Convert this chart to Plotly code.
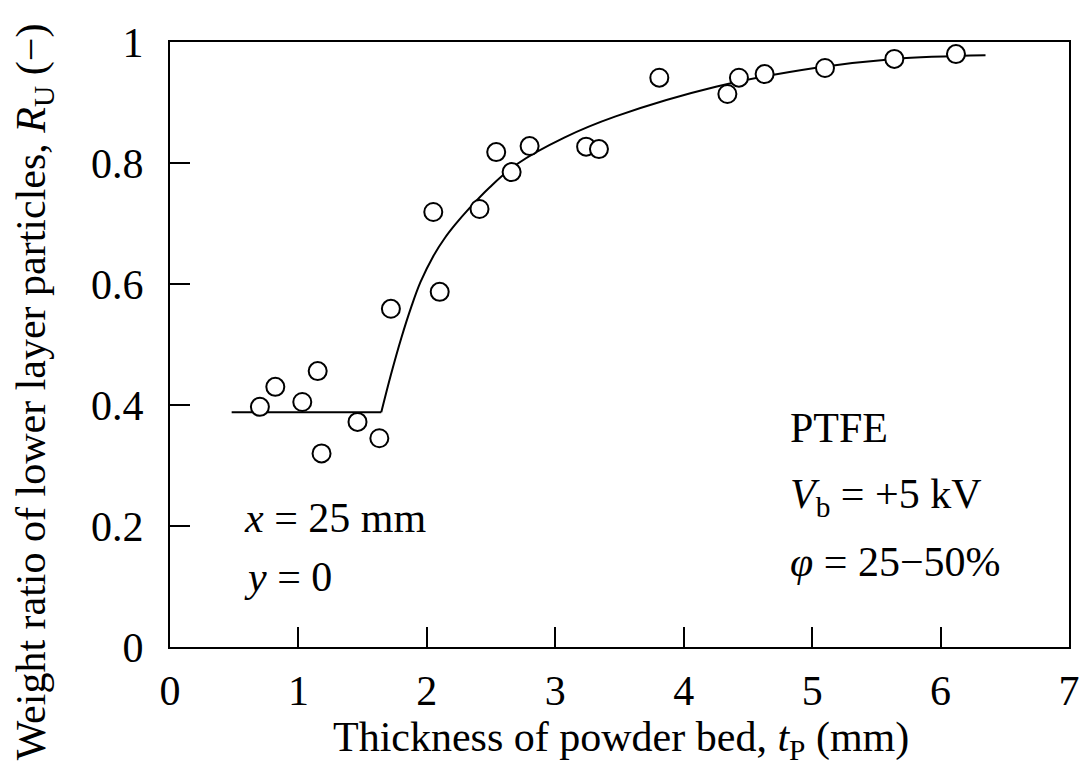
import plotly.graph_objects as go

# Measured data points (thickness t_P in mm, weight ratio R_U)
t_points = [0.70, 0.82, 1.03, 1.15, 1.18, 1.46, 1.63, 1.72, 2.05, 2.10, 2.41,
            2.54, 2.66, 2.80, 3.24, 3.34, 3.81, 4.34, 4.43, 4.63, 5.10, 5.64, 6.12]
r_points = [0.397, 0.430, 0.405, 0.456, 0.320, 0.372, 0.345, 0.559, 0.719, 0.587, 0.724,
            0.818, 0.785, 0.828, 0.827, 0.823, 0.941, 0.914, 0.941, 0.947, 0.957, 0.972, 0.980]

# Fitted curve
flat_t = [0.48, 1.645]
flat_r = [0.388, 0.388]
curve_t = [1.645, 1.72, 1.80, 1.88, 1.95, 2.05, 2.14, 2.22, 2.33, 2.49, 2.70, 3.07, 3.47,
           4.25, 5.02, 5.64, 6.35]
curve_r = [0.388, 0.450, 0.510, 0.563, 0.603, 0.646, 0.676, 0.698, 0.725, 0.760, 0.798,
           0.842, 0.877, 0.926, 0.957, 0.972, 0.978]

x_ticks = [0, 1, 2, 3, 4, 5, 6, 7]
y_ticks = [0, 0.2, 0.4, 0.6, 0.8, 1]
y_tick_text = ["0", "0.2", "0.4", "0.6", "0.8", "1"]

FONT = "'Liberation Serif', 'Times New Roman', serif"
FS = 42

W, H = 1092, 781
L, R, T, B = 170, 15, 42, 134
pw, ph = W - L - R, H - T - B


def px(xp):
    return (xp - L) / pw


def py(yp):
    return (H - B - yp) / ph


fig = go.Figure()
fig.add_trace(go.Scatter(x=flat_t, y=flat_r, mode="lines",
                         line=dict(color="black", width=2), showlegend=False, hoverinfo="skip"))
fig.add_trace(go.Scatter(x=curve_t, y=curve_r, mode="lines",
                         line=dict(color="black", width=2, shape="spline", smoothing=1.0),
                         showlegend=False, hoverinfo="skip"))
fig.add_trace(go.Scatter(x=t_points, y=r_points, mode="markers",
                         marker=dict(symbol="circle", size=18, color="white",
                                     line=dict(color="black", width=2)),
                         showlegend=False))

axis_common = dict(showgrid=False, zeroline=False, showline=True, linecolor="black",
                   linewidth=2, mirror=True, ticks="inside", ticklen=20, tickwidth=2,
                   tickcolor="black", tickfont=dict(family=FONT, size=FS, color="black"))

fig.update_xaxes(range=[0, 7], tickvals=x_ticks, ticklabelstandoff=6, **axis_common)
fig.update_yaxes(range=[0, 1], tickvals=y_ticks, ticktext=y_tick_text, ticklabelstandoff=16,
                 **axis_common)


def add_text(xp, yp, txt, xanchor="center", angle=0):
    fig.add_annotation(x=px(xp), y=py(yp), xref="paper", yref="paper", text=txt,
                       textangle=angle, showarrow=False, xanchor=xanchor, yanchor="middle",
                       font=dict(family=FONT, size=FS, color="black"))


add_text(625, 740, "Thickness of powder bed, <i>t</i><sub>P</sub> (mm)")
add_text(33, 392, "Weight ratio of lower layer particles, <i>R</i><sub>U</sub> (−)", angle=-90)

for txt, yc in [("<i>x</i> = 25 mm", 518), ("<i>y</i> = 0", 577)]:
    add_text(243, yc, txt, xanchor="left")

for txt, yc in [("PTFE", 428), ("<i>V</i><sub>b</sub> = +5 kV", 497), ("<i>φ</i> = 25−50%", 562)]:
    add_text(794, yc, txt, xanchor="left")

fig.update_layout(width=W, height=H, margin=dict(l=L, r=R, t=T, b=B),
                  plot_bgcolor="white", paper_bgcolor="white",
                  font=dict(family=FONT, color="black"))

fig.write_html("out.html")
